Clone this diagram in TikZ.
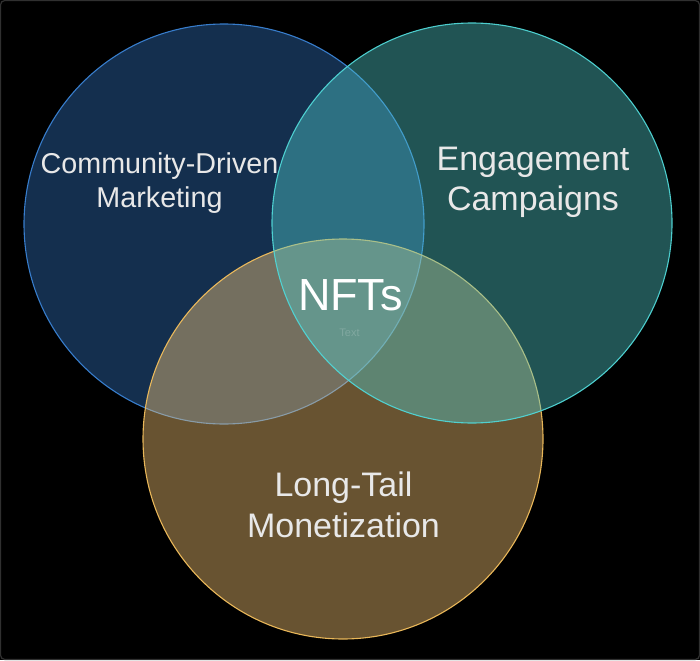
\documentclass[tikz,border=0pt]{standalone}
\usepackage{fontspec}
\setmainfont{Liberation Sans}
\definecolor{cL}{RGB}{48,114,188}
\definecolor{cR}{RGB}{81,202,202}
\definecolor{cB}{RGB}{250,200,119}
\definecolor{bL}{RGB}{58,130,212}
\definecolor{bR}{RGB}{80,214,214}
\definecolor{bB}{RGB}{242,190,92}
\definecolor{txt}{RGB}{232,232,232}
\definecolor{framec}{RGB}{48,48,48}
\tikzset{
  vcirc/.style={circle, minimum size=400pt, inner sep=0pt, fill opacity=0.42, draw opacity=0.95, line width=1.1pt},
  lbl/.style={text=txt, align=center, inner sep=0pt},
}
\begin{document}
\begin{tikzpicture}[x=1pt,y=-1pt]
\useasboundingbox (0,0) rectangle (700,660);
\fill[black] (0,0) rectangle (700,660);
\draw[framec, line width=1.2pt, rounded corners=4pt] (0.6,0.6) rectangle (699.4,659.4);
% circles
\node[vcirc, fill=cL, draw=bL] (comm) at (224,224) {};
\node[vcirc, fill=cB, draw=bB] (tail) at (343,439) {};
\node[vcirc, fill=cR, draw=bR] (eng) at (472,223) {};
% labels
\node[lbl, font=\fontsize{28.7}{34.5}\selectfont] (commtext) at (159.5,183.3) {Community-Driven\\Marketing};
\node[lbl, font=\fontsize{34}{40}\selectfont] (engtext) at (533,182.5) {Engagement\\Campaigns};
\node[lbl, font=\fontsize{34}{40.7}\selectfont] (tailtext) at (343.5,504.5) {Long-Tail\\Monetization};
\node[lbl, text=white, anchor=base, font=\fontsize{45}{50}\selectfont] (nfts) at (350.5,310) {NFTs};
\node[lbl, text=white, text opacity=0.18, anchor=base, font=\fontsize{11}{13}\selectfont] (small) at (349.5,336) {Text};
\end{tikzpicture}
\end{document}
